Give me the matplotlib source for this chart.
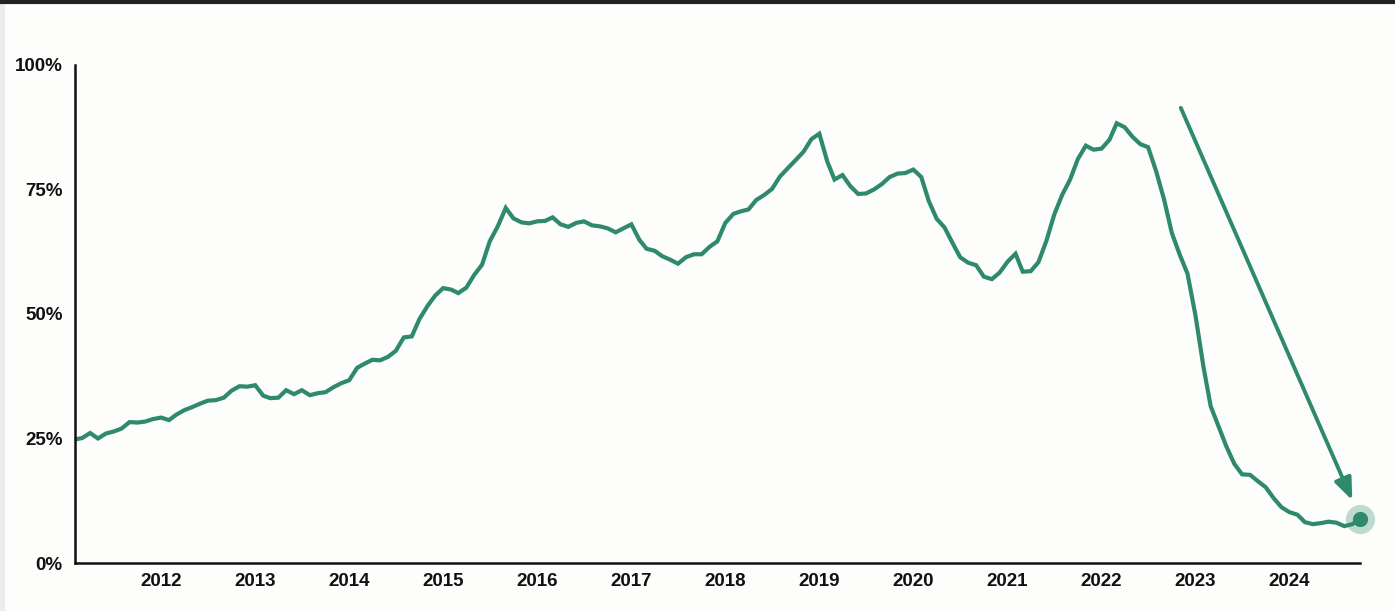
import matplotlib.pyplot as plt
import matplotlib.dates as mdates
from matplotlib.lines import Line2D
from matplotlib.patches import Rectangle
import pandas as pd

# monthly share (%), Feb 2011 - Oct 2024
share = [
    24.8, 25.1, 26.1, 25.0, 26.0, 26.4, 27.0, 28.3, 28.2, 28.4, 28.9,
    29.2, 28.7, 29.8, 30.7, 31.3, 32.0, 32.6, 32.7, 33.2, 34.6, 35.5, 35.4,
    35.7, 33.6, 33.1, 33.2, 34.7, 33.9, 34.7, 33.7, 34.1, 34.3, 35.3, 36.1,
    36.7, 39.2, 40.0, 40.8, 40.7, 41.4, 42.6, 45.3, 45.5, 49.0, 51.6, 53.7,
    55.2, 54.9, 54.2, 55.3, 57.8, 59.9, 64.6, 67.6, 71.3, 69.2, 68.4, 68.2,
    68.6, 68.7, 69.4, 68.0, 67.5, 68.3, 68.6, 67.8, 67.6, 67.2, 66.4, 67.2,
    68.0, 64.9, 63.1, 62.7, 61.6, 60.9, 60.1, 61.4, 62.0, 62.0, 63.5, 64.6,
    68.3, 70.1, 70.6, 71.0, 72.9, 73.9, 75.1, 77.6, 79.3, 80.9, 82.6, 85.1,
    86.2, 80.6, 77.0, 77.9, 75.7, 74.1, 74.2, 75.0, 76.1, 77.5, 78.2, 78.3,
    79.0, 77.5, 72.7, 69.1, 67.4, 64.3, 61.4, 60.3, 59.8, 57.5, 57.0, 58.3,
    60.5, 62.1, 58.5, 58.6, 60.4, 64.7, 69.9, 73.9, 77.0, 81.1, 83.8, 83.0,
    83.2, 85.0, 88.3, 87.5, 85.6, 84.1, 83.5, 78.7, 73.0, 66.3, 61.9, 58.1,
    49.7, 39.4, 31.5, 27.4, 23.4, 19.9, 17.8, 17.7, 16.4, 15.2, 13.0, 11.2,
    10.2, 9.7, 8.2, 7.8, 8.0, 8.3, 8.1, 7.4, 7.8, 8.8,
]
months = pd.date_range("2011-02-01", periods=len(share), freq="MS")
years = list(range(2012, 2025))
yticks = [0, 25, 50, 75, 100]

# trend arrow: start and end (date, %)
arrow_from = (pd.Timestamp("2022-11-05"), 91.4)
arrow_to = (pd.Timestamp("2024-09-01"), 12.6)

green = "#2e8a6a"
plt.rcParams['font.family'] = ['Liberation Sans', 'DejaVu Sans']

fig = plt.figure(figsize=(13.95, 6.11), dpi=100, facecolor="#fdfdfc")
ax = fig.add_axes([75 / 1395, 1 - 563 / 611, 1285 / 1395, 498 / 611])
ax.set_facecolor("#fdfdfc")

ax.plot(months, share, color=green, lw=3.0, solid_joinstyle="miter",
        solid_capstyle="butt")

# end point with halo
ax.scatter([months[-1]], [share[-1]], s=440, color=green, alpha=0.3,
           lw=0, zorder=3, clip_on=False)
ax.scatter([months[-1]], [share[-1]], s=120, color=green, lw=0, zorder=4,
           clip_on=False)

ax.annotate("", xy=arrow_to, xytext=arrow_from,
            arrowprops=dict(arrowstyle="-|>,head_length=0.6,head_width=0.24",
                            color=green, lw=2.8, mutation_scale=22,
                            shrinkA=0, shrinkB=0))

ax.set_xlim(months[0], months[-1])
ax.set_ylim(0, 100)
ax.set_yticks(yticks)
ax.set_yticklabels([f"{v}%" for v in yticks])
ax.set_xticks([pd.Timestamp(f"{y}-01-01") for y in years])
ax.xaxis.set_major_formatter(mdates.DateFormatter("%Y"))
ax.tick_params(length=0, labelsize=13.5, colors="#111111")
ax.tick_params(axis="x", pad=7)
ax.tick_params(axis="y", pad=9)
for lab in ax.get_xticklabels() + ax.get_yticklabels():
    lab.set_fontweight("bold")

for s in ["top", "right"]:
    ax.spines[s].set_visible(False)
for s in ["left", "bottom"]:
    ax.spines[s].set_linewidth(1.8)
    ax.spines[s].set_color("#111111")

# dark rule along the top edge, pale strip on the left edge
fig.add_artist(Line2D([0, 1], [0.997, 0.997], color="#222222", lw=3,
                      transform=fig.transFigure))
fig.add_artist(Rectangle((0, 0), 5 / 1395, 1, color="#ececec", lw=0,
                         transform=fig.transFigure))

fig.savefig("out.png", dpi=100, facecolor=fig.get_facecolor())
